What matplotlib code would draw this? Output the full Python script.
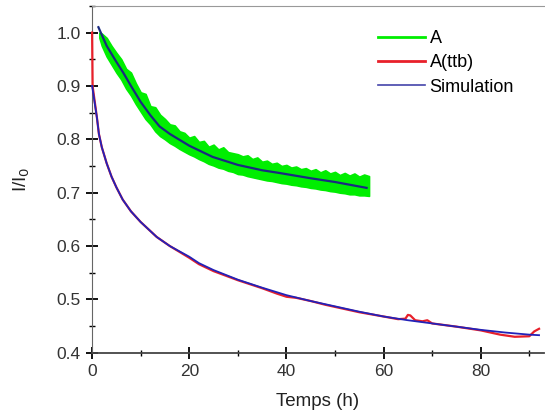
import numpy as np
import matplotlib.pyplot as plt
from matplotlib.ticker import MultipleLocator

plt.rcParams['font.family'] = ['Liberation Sans', 'DejaVu Sans']

# upper curve, A (noisy band read as upper / lower envelope)
a_x = [1.5] + list(range(2, 58))
a_hi = [1.000, 0.998, 0.990, 0.975, 0.962, 0.950, 0.932, 0.925, 0.905, 0.888, 0.885,
        0.862, 0.860, 0.846, 0.838, 0.828, 0.826, 0.815, 0.812, 0.803, 0.806, 0.795,
        0.797, 0.786, 0.790, 0.781, 0.785, 0.776, 0.774, 0.772, 0.768, 0.770, 0.763,
        0.766, 0.758, 0.760, 0.754, 0.756, 0.750, 0.752, 0.747, 0.749, 0.744, 0.746,
        0.741, 0.744, 0.738, 0.742, 0.736, 0.739, 0.733, 0.737, 0.732, 0.736, 0.730,
        0.734, 0.731]
a_lo = [0.990, 0.975, 0.955, 0.940, 0.925, 0.912, 0.895, 0.882, 0.866, 0.852, 0.838,
        0.828, 0.815, 0.806, 0.800, 0.793, 0.788, 0.782, 0.777, 0.772, 0.768, 0.763,
        0.759, 0.754, 0.751, 0.747, 0.745, 0.741, 0.739, 0.735, 0.734, 0.731, 0.729,
        0.727, 0.725, 0.723, 0.722, 0.720, 0.718, 0.717, 0.715, 0.714, 0.712, 0.711,
        0.709, 0.708, 0.706, 0.705, 0.703, 0.702, 0.700, 0.699, 0.697, 0.697, 0.695,
        0.695, 0.694]

# simulation on A
simA_x = [1.3, 3, 5, 6.4, 8, 10, 12, 13.9, 16, 20, 24.8, 30, 35, 38.5, 45, 50, 56.5]
simA_y = [1.01, 0.975, 0.945, 0.925, 0.900, 0.870, 0.845, 0.824, 0.810, 0.788, 0.767,
          0.752, 0.742, 0.737, 0.727, 0.720, 0.709]

# A(ttb)
ttb_x = [0, 0.1, 1, 1.4, 2, 3, 4, 5, 6.3, 8, 10, 13.3, 16, 20, 22, 25, 30, 35, 38, 40, 42,
         45, 48, 50, 55, 60, 63, 64.5, 65, 65.5, 66.5, 68, 69, 70, 75, 80, 84, 87, 90, 91, 92]
ttb_y = [1.00, 0.90, 0.84, 0.81, 0.785, 0.755, 0.730, 0.710, 0.687, 0.665, 0.645, 0.617,
         0.600, 0.578, 0.566, 0.553, 0.536, 0.521, 0.511, 0.505, 0.503, 0.497, 0.490, 0.486,
         0.476, 0.468, 0.463, 0.464, 0.471, 0.470, 0.461, 0.459, 0.461, 0.455, 0.449, 0.442,
         0.434, 0.430, 0.431, 0.440, 0.445]

# simulation on A(ttb)
simB_x = [0, 1, 1.4, 2, 3, 4, 5, 6.3, 8, 10, 13.3, 16, 20, 22, 25, 30, 35, 40, 45, 50, 55,
          60, 65, 70, 75, 80, 85, 90, 92]
simB_y = [0.90, 0.84, 0.81, 0.785, 0.755, 0.730, 0.710, 0.687, 0.665, 0.645, 0.617, 0.600,
          0.580, 0.568, 0.555, 0.537, 0.522, 0.508, 0.497, 0.487, 0.477, 0.468, 0.461,
          0.455, 0.449, 0.443, 0.438, 0.434, 0.433]

fig = plt.figure(figsize=(5.45, 4.19), dpi=100)
ax = fig.add_axes([0.169, 0.158, 0.829, 0.828])

green = '#00ee00'
red = '#e8202a'
blue = '#2222b8'

ax.fill_between(a_x, a_lo, a_hi, color=green, lw=1.2, edgecolor=green)
ax.plot(simA_x, simA_y, color='#1a2a80', lw=1.6)
ax.plot(ttb_x, ttb_y, color=red, lw=1.6, clip_on=False, zorder=3)
ax.plot(simB_x, simB_y, color=blue, lw=1.3, clip_on=False, zorder=3)

# legend handles
ax.plot([], [], color=green, lw=2, label='A')
ax.plot([], [], color=red, lw=2, label='A(ttb)')
ax.plot([], [], color='#4444aa', lw=1.2, label='Simulation')
ax.legend(loc='upper left', bbox_to_anchor=(0.633, 0.93), frameon=False, fontsize=13,
          handlelength=2.6, handletextpad=0.25, labelspacing=0.4, borderaxespad=0,
          borderpad=0)

ax.set_xlim(0, 93)
ax.set_ylim(0.4, 1.05)
ax.xaxis.set_major_locator(MultipleLocator(20))
ax.xaxis.set_minor_locator(MultipleLocator(10))
ax.yaxis.set_major_locator(MultipleLocator(0.1))
ax.yaxis.set_minor_locator(MultipleLocator(0.05))
ax.tick_params(which='major', direction='inout', length=8, width=1.3, labelsize=12.5,
               labelcolor='#333333', pad=4)
ax.tick_params(which='minor', direction='inout', length=5, width=1)
ax.yaxis.set_major_formatter(plt.FuncFormatter(lambda v, p: f'{v:.1f}'))

ax.spines['right'].set_visible(False)
ax.spines['top'].set_color('#999999')
ax.spines['left'].set_color('#666666')
ax.spines['bottom'].set_color('#444444')
ax.spines['bottom'].set_linewidth(1.3)

ax.set_xlabel('Temps (h)', fontsize=13.5, color='#222222', labelpad=10)
ax.set_ylabel('I/I$_0$', fontsize=13.5, color='#222222', labelpad=18)

fig.savefig('out.png', dpi=100)
